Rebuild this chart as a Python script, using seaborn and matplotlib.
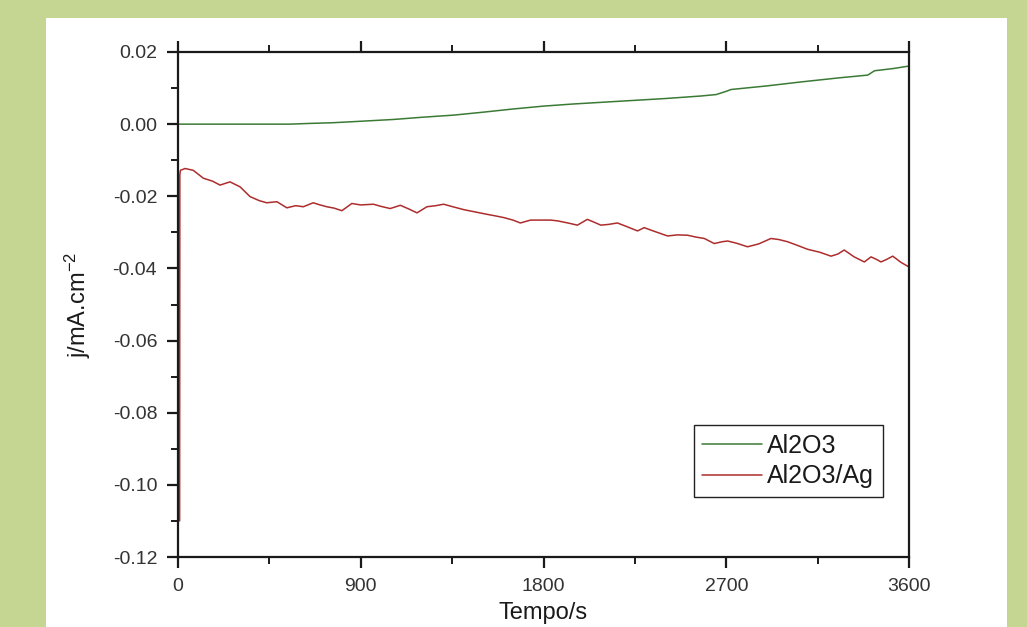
import matplotlib
matplotlib.use("Agg")
import matplotlib.pyplot as plt
import seaborn as sns
import pandas as pd
from matplotlib.patches import Rectangle
from matplotlib.ticker import MultipleLocator, FormatStrFormatter

# ---- data ----
t_al2o3 = [0, 300, 550, 650, 765, 900, 1062, 1200, 1357, 1500, 1650, 1800, 1950,
           2100, 2250, 2400, 2575, 2650, 2700, 2723, 2900, 3068, 3250, 3397, 3430,
           3520, 3600]
j_al2o3 = [0.0, 0.0, 0.0, 0.0002, 0.0004, 0.0008, 0.0013, 0.0019, 0.0025, 0.0033,
           0.0042, 0.0050, 0.0056, 0.0061, 0.0066, 0.0071, 0.0078, 0.0082, 0.0091,
           0.0096, 0.0106, 0.0117, 0.0128, 0.0136, 0.0148, 0.0154, 0.0161]

t_ag = [8, 9, 12, 35, 75, 125, 170, 207, 256, 306, 355, 400, 437, 487, 536, 580,
        617, 666, 700, 733, 770, 807, 856, 900, 962, 1000, 1045, 1095, 1140, 1177,
        1226, 1270, 1308, 1360, 1407, 1460, 1522, 1560, 1604, 1650, 1686, 1736,
        1785, 1834, 1868, 1920, 1967, 2016, 2050, 2082, 2120, 2164, 2210, 2263,
        2296, 2350, 2411, 2460, 2510, 2550, 2592, 2641, 2680, 2707, 2750, 2805,
        2860, 2920, 2960, 3002, 3050, 3101, 3160, 3216, 3250, 3281, 3330, 3380,
        3413, 3440, 3462, 3490, 3520, 3560, 3600]
j_ag = [-0.110, -0.0140, -0.0128, -0.0123, -0.0128, -0.0150, -0.0158, -0.0169,
        -0.0160, -0.0174, -0.0201, -0.0212, -0.0218, -0.0215, -0.0232, -0.0226,
        -0.0229, -0.0218, -0.0224, -0.0229, -0.0233, -0.0240, -0.0220, -0.0224,
        -0.0222, -0.0228, -0.0234, -0.0225, -0.0236, -0.0246, -0.0229, -0.0226,
        -0.0222, -0.0230, -0.0237, -0.0243, -0.0250, -0.0254, -0.0259, -0.0266,
        -0.0274, -0.0266, -0.0266, -0.0266, -0.0268, -0.0274, -0.0280, -0.0264,
        -0.0272, -0.0280, -0.0278, -0.0274, -0.0284, -0.0296, -0.0287, -0.0298,
        -0.0310, -0.0307, -0.0308, -0.0313, -0.0317, -0.0331, -0.0326, -0.0324,
        -0.0330, -0.0340, -0.0332, -0.0317, -0.0320, -0.0326, -0.0336, -0.0347,
        -0.0355, -0.0366, -0.0360, -0.0349, -0.0368, -0.0382, -0.0368, -0.0375,
        -0.0382, -0.0375, -0.0366, -0.0383, -0.0396]

series_names = ["Al2O3", "Al2O3/Ag"]
x_ticks = [0, 900, 1800, 2700, 3600]
y_ticks = [0.02, 0.00, -0.02, -0.04, -0.06, -0.08, -0.10, -0.12]

df = pd.concat([
    pd.DataFrame({"t": t_al2o3, "j": j_al2o3, "serie": series_names[0]}),
    pd.DataFrame({"t": t_ag, "j": j_ag, "serie": series_names[1]}),
])

sns.set_theme(style="white")
plt.rcParams["font.family"] = ["Liberation Sans", "DejaVu Sans"]
plt.rcParams["mathtext.default"] = "regular"

fig = plt.figure(figsize=(10.27, 6.27), dpi=100)
fig.patch.set_facecolor("#c5d592")
fig.patches.append(Rectangle((46 / 1027, 0), (1007 - 46) / 1027, 1 - 18 / 627,
                             transform=fig.transFigure, facecolor="white",
                             edgecolor="none", zorder=-5))

ax = fig.add_axes([178 / 1027, 1 - 557 / 627, (909 - 178) / 1027, (557 - 52) / 627])
ax.set_facecolor("white")

palette = {series_names[0]: "#3b7a35", series_names[1]: "#ad2d2d"}
sns.lineplot(data=df, x="t", y="j", hue="serie", palette=palette, ax=ax,
             linewidth=1.1, estimator=None, sort=False)

ax.set_xlim(0, 3600)
ax.set_ylim(-0.12, 0.02)
ax.set_xticks(x_ticks)
ax.set_yticks(y_ticks)
ax.xaxis.set_minor_locator(MultipleLocator(450))
ax.yaxis.set_minor_locator(MultipleLocator(0.01))
ax.yaxis.set_major_formatter(FormatStrFormatter("%.2f"))

for s in ax.spines.values():
    s.set_visible(True)
    s.set_color("#1a1a1a")
    s.set_linewidth(1.6)

ax.tick_params(axis="both", which="major", direction="out", length=8, width=1.6,
               color="#1a1a1a", labelsize=14, labelcolor="#333333", pad=7)
ax.tick_params(axis="both", which="minor", direction="out", length=5, width=1.4,
               color="#1a1a1a")
ax.tick_params(axis="x", which="both", top=True, bottom=True, labeltop=False)
ax.tick_params(axis="y", which="both", left=True, right=False)

ax.set_xlabel("Tempo/s", fontsize=17, color="#1a1a1a", labelpad=5)
ax.set_ylabel("j/mA.cm$^{-2}$", fontsize=17, color="#1a1a1a", labelpad=14)

handles, labels = ax.get_legend_handles_labels()
leg = ax.legend(handles, ["Al2O3", "Al2O3/Ag"], loc="lower right",
                bbox_to_anchor=((883 - 178) / 731, (557 - 497) / 505),
                fontsize=18, frameon=True, fancybox=False, edgecolor="#222222",
                framealpha=1, borderpad=0.35, labelspacing=0.25, handlelength=2.4,
                handletextpad=0.2, borderaxespad=0)
leg.get_frame().set_linewidth(1.0)
for txt in leg.get_texts():
    txt.set_color("#1a1a1a")

fig.savefig("out.png", dpi=100, facecolor=fig.get_facecolor())
